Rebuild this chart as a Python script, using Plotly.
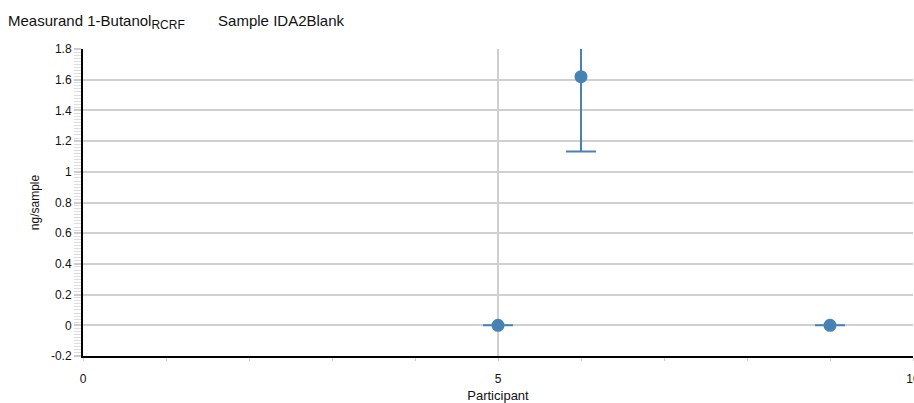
import plotly.graph_objects as go

participants = [5, 6, 9]
values = [0.0, 1.62, 0.0]
uncertainty = [0.0, 0.487, 0.0]

x_ticks = [0, 5, 10]
y_ticks = [-0.2, 0, 0.2, 0.4, 0.6, 0.8, 1, 1.2, 1.4, 1.6, 1.8]

color = "#4682b4"

fig = go.Figure()
fig.add_trace(go.Scatter(
    x=participants, y=values, mode="markers",
    marker=dict(size=13, color=color),
    error_y=dict(type="data", array=uncertainty, visible=True,
                 width=15, thickness=2, color=color),
    showlegend=False,
))

fig.update_layout(
    width=914, height=403,
    margin=dict(l=83, r=1, t=49, b=47, autoexpand=False),
    paper_bgcolor="white", plot_bgcolor="white",
    font=dict(family="Liberation Sans, Arial, sans-serif", size=12, color="#111"),
    title=dict(
        text="Measurand 1-Butanol<sub><span style='font-size:12px'>RCRF</span></sub>"
             "        Sample IDA2Blank",
        x=8/914, xref="container", xanchor="left",
        y=1-21/403, yref="container", yanchor="middle",
        font=dict(size=15, color="#111"), automargin=False,
    ),
    xaxis=dict(
        range=[0, 10], tickvals=x_ticks, ticktext=[str(v) for v in x_ticks],
        showgrid=True, gridcolor="#d0d0d0", gridwidth=1.5,
        zeroline=False, showline=True, linecolor="black", linewidth=2,
        ticks="", ticklen=0, automargin=False,
        ticklabelstandoff=11, ticklabeloverflow="allow",
        tickfont=dict(size=12),
        minor=dict(dtick=1, ticks="outside", ticklen=3, tickcolor="#cccccc", showgrid=False),
        title=dict(text="Participant", font=dict(size=13), standoff=5),
    ),
    yaxis=dict(
        range=[-0.2, 1.8], tickvals=y_ticks, ticktext=[f"{v:g}" for v in y_ticks],
        showgrid=True, gridcolor="#d0d0d0", gridwidth=1.5,
        zeroline=False, showline=True, linecolor="black", linewidth=2,
        ticks="outside", ticklen=7, tickcolor="#cccccc", tickwidth=2,
        automargin=False, tickfont=dict(size=12),
        minor=dict(dtick=0.02, tick0=0, ticks="outside", ticklen=7, tickcolor="#dddddd", tickwidth=1, showgrid=False),
        title=dict(text="ng/sample", font=dict(size=12), standoff=9),
    ),
)

fig.write_html("out.html", config={"displayModeBar": False})

with open("out.html", "r", encoding="utf-8") as f:
    html = f.read()
html = html.replace("<head>", "<head><style>html,body{margin:0;padding:0;overflow:hidden;}</style>", 1)
with open("out.html", "w", encoding="utf-8") as f:
    f.write(html)
